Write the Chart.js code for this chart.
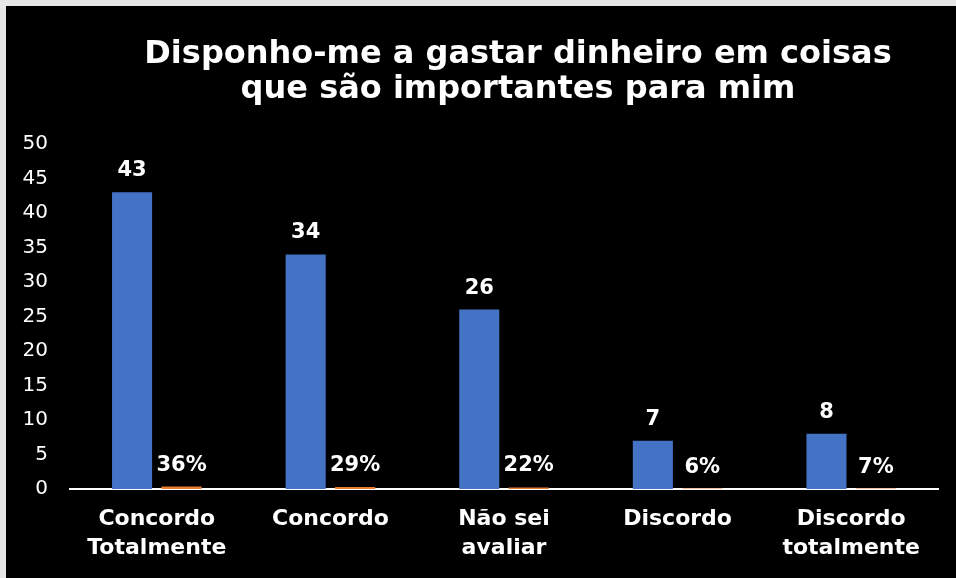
<!DOCTYPE html>
<html lang="pt">
<head>
  <meta charset="UTF-8" />
  <title>Disponho-me a gastar dinheiro em coisas que são importantes para mim</title>
  <script src="https://cdn.jsdelivr.net/npm/chart.js"></script>
  <style>
    html, body { margin: 0; padding: 0; }
    body { background: #e6e6e6; width: 956px; height: 578px; overflow: hidden; position: relative; }
    #chart { position: absolute; left: 6px; top: 6px; background: #000; }
  </style>
</head>
<body>
<canvas id="chart" width="950" height="572"></canvas>

<script>
  // answers and how many people gave each one
  const categories = [['Concordo', 'Totalmente'], 'Concordo', ['Não sei', 'avaliar'], 'Discordo', ['Discordo', 'totalmente']];
  const counts = [43, 34, 26, 7, 8];
  const shares = [0.36, 0.29, 0.22, 0.06, 0.07];
  const titleLines = ['Disponho-me a gastar dinheiro em coisas', 'que são importantes para mim'];

  const FONT = "'DejaVu Sans', sans-serif";

  // title drawn by hand so it can sit a bit right of the canvas centre
  const titlePlugin = {
    id: 'twoLineTitle',
    afterDraw(chart) {
      const ctx = chart.ctx;
      ctx.save();
      ctx.fillStyle = '#fff';
      ctx.font = 'bold 32px ' + FONT;
      ctx.textAlign = 'center';
      ctx.textBaseline = 'alphabetic';
      titleLines.forEach((line, i) => ctx.fillText(line, 512, 57 + i * 35));
      ctx.restore();
    }
  };

  // value labels above every bar
  const valueLabels = {
    id: 'valueLabels',
    afterDatasetsDraw(chart) {
      const ctx = chart.ctx;
      ctx.save();
      ctx.fillStyle = '#fff';
      ctx.font = 'bold 21px ' + FONT;
      ctx.textAlign = 'center';
      ctx.textBaseline = 'alphabetic';
      chart.data.datasets.forEach((ds, di) => {
        chart.getDatasetMeta(di).data.forEach((bar, i) => {
          const v = ds.data[i];
          const txt = di === 0 ? String(v) : Math.round(v * 100) + '%';
          ctx.fillText(txt, bar.x, bar.y - 16);
        });
      });
      ctx.restore();
    }
  };

  new Chart(document.getElementById('chart'), {
    type: 'bar',
    data: {
      labels: categories,
      datasets: [
        { label: 'Respostas', data: counts, backgroundColor: '#4472c4' },
        { label: '%', data: shares, backgroundColor: '#ed7d31' }
      ]
    },
    options: {
      responsive: false,
      animation: false,
      devicePixelRatio: 1,
      categoryPercentage: 0.57,
      barPercentage: 0.81,
      layout: { padding: { left: 0, top: 138, right: 18, bottom: 0 } },
      plugins: {
        legend: { display: false },
        title: { display: false },
        tooltip: { enabled: false }
      },
      scales: {
        x: {
          grid: { display: false, drawTicks: false },
          border: { display: true, color: '#fff', width: 2 },
          ticks: {
            color: '#fff',
            padding: 16,
            maxRotation: 0,
            autoSkip: false,
            font: { family: FONT, size: 22, weight: 'bold', lineHeight: 1.32 }
          },
          afterFit(scale) { scale.height = 89; }
        },
        y: {
          min: 0,
          max: 50,
          grid: { display: false, drawTicks: false },
          border: { display: false },
          ticks: {
            stepSize: 5,
            color: '#fff',
            padding: 22,
            font: { family: FONT, size: 20 }
          },
          afterFit(scale) { scale.width = 64; }
        }
      }
    },
    plugins: [titlePlugin, valueLabels]
  });
</script>
</body>
</html>
